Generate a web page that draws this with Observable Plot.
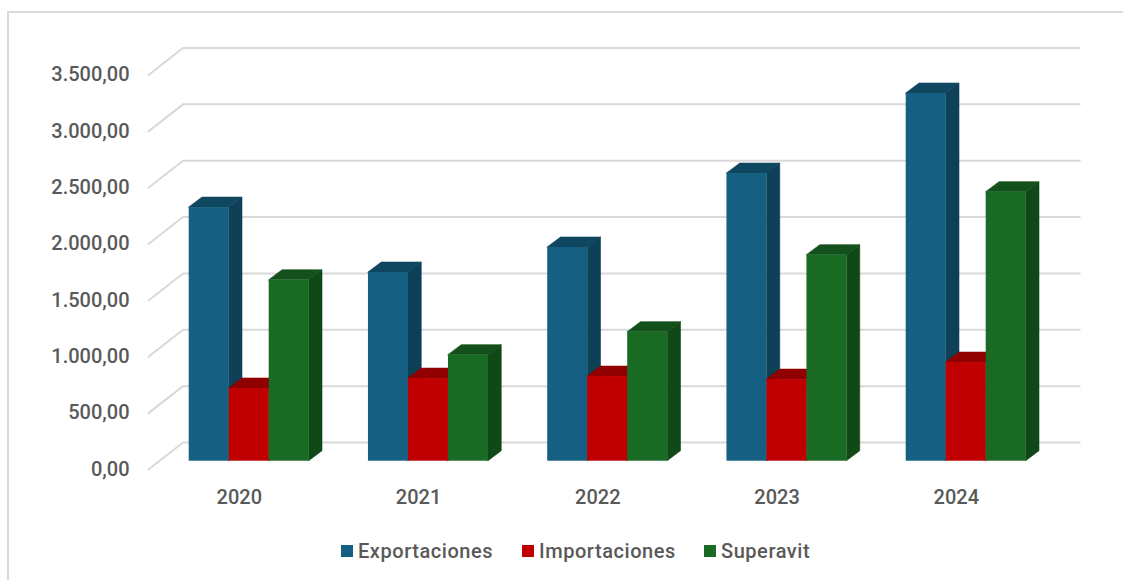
<!DOCTYPE html>
<html lang="es">
<head>
<meta charset="utf-8">
<script src="https://cdn.jsdelivr.net/npm/d3@7"></script>
<script src="https://cdn.jsdelivr.net/npm/@observablehq/plot@0.6"></script>
<style>
html,body{margin:0;padding:0;background:#fff;width:1123px;height:580px;overflow:hidden;}
#page{position:relative;width:1123px;height:580px;overflow:hidden;font-family:Roboto,sans-serif;}
#card{position:absolute;left:7px;top:11px;width:1200px;height:700px;border:2px solid #d9d9d9;box-sizing:border-box;}
#chart{position:absolute;left:0;top:0;}
#chart svg{display:block;background:transparent;}
#chart svg text{font-weight:500;}
#legend{position:absolute;left:341px;top:538px;height:26px;font-size:20px;color:#595959;font-weight:500;white-space:nowrap;letter-spacing:0.55px;}
.item{display:flex;align-items:center;position:absolute;top:0;height:26px;}
.sw{width:12px;height:12px;margin-right:5px;flex:none;}
</style>
</head>
<body>
<div id="page">
<div id="card"></div>
<div id="chart"></div>
<div id="legend"></div>
</div>
<script>
const years = ["2020", "2021", "2022", "2023", "2024"];
const exportaciones = [2250, 1674, 1896, 2552, 3262];
const importaciones = [645, 733, 751, 724, 875];
const superavit = [1605, 941, 1145, 1828, 2387];
const yTicks = [0, 500, 1000, 1500, 2000, 2500, 3000, 3500];

const seriesList = [
  {name: "Exportaciones", values: exportaciones, front: "#156082", side: "#0e4057", top: "#0f4761"},
  {name: "Importaciones", values: importaciones, front: "#c00000", side: "#800000", top: "#900000"},
  {name: "Superavit", values: superavit, front: "#196b24", side: "#104818", top: "#13501b"}
];

const slot = 179.25;
const barW = 40 / slot;
const depthX = 13.3 / slot;
const depthY = 10 / 0.11272;
const wallNear = 8.3 / 0.11272;
const wallFar = 18.7 / 0.11272;
const wallX = [-0.227, -0.0346, 4.968];

const fmt = d3.formatLocale({decimal: ",", thousands: ".", grouping: [3], currency: ["", ""]}).format(",.2f");

const gridPts = yTicks.flatMap(v => [
  {v, x: wallX[0], y: v - wallNear},
  {v, x: wallX[1], y: v + wallFar},
  {v, x: wallX[2], y: v + wallFar}
]);

const barMarks = seriesList.flatMap((s, k) => {
  const fronts = s.values.map((v, i) => ({i, v, x1: i + k * barW, x2: i + (k + 1) * barW}));
  const side = fronts.flatMap(b => [
    {i: b.i, x: b.x2, y1: 0, y2: b.v},
    {i: b.i, x: b.x2 + depthX, y1: depthY, y2: b.v + depthY}
  ]);
  const top = fronts.flatMap(b => [
    {i: b.i, y: b.v, x1: b.x1, x2: b.x2},
    {i: b.i, y: b.v + depthY, x1: b.x1 + depthX, x2: b.x2 + depthX}
  ]);
  return [
    Plot.areaY(side, {x: "x", y1: "y1", y2: "y2", z: "i", fill: s.side, stroke: s.side, strokeWidth: 0.6}),
    Plot.areaX(top, {y: "y", x1: "x1", x2: "x2", z: "i", fill: s.top, stroke: s.top, strokeWidth: 0.6}),
    Plot.rect(fronts, {x1: "x1", x2: "x2", y1: 0, y2: "v", fill: s.front})
  ];
});

const chart = Plot.plot({
  width: 1123,
  height: 530,
  marginLeft: 129,
  marginRight: 0,
  marginTop: 0,
  marginBottom: 0,
  style: {background: "transparent", fontFamily: "Roboto, sans-serif"},
  x: {type: "linear", domain: [0, 5], range: [188.7, 188.7 + 5 * slot], axis: null},
  y: {type: "linear", domain: [0, 3500], range: [460.7, 66.2]},
  marks: [
    Plot.line(gridPts, {x: "x", y: "y", z: "v", stroke: "#d9d9d9", strokeWidth: 2, curve: "linear"}),
    ...barMarks,
    Plot.axisY({
      anchor: "left",
      ticks: yTicks,
      tickSize: 0,
      tickPadding: 0,
      tickFormat: fmt,
      label: null,
      dy: 8.2,
      fontSize: 20,
      fill: "#595959",
      textStroke: "none"
    }),
    Plot.text(years, {
      x: (d, i) => i + 1.5 * barW - 0.055,
      y: 0,
      text: d => d,
      dy: 36.3,
      fontSize: 20,
      fill: "#595959",
      textAnchor: "middle",
      lineAnchor: "middle"
    })
  ]
});
document.getElementById("chart").appendChild(chart);

const legendLefts = [0, 181, 363];
const legend = document.getElementById("legend");
seriesList.forEach((s, k) => {
  const it = document.createElement("div");
  it.className = "item";
  it.style.left = legendLefts[k] + "px";
  const sw = document.createElement("span");
  sw.className = "sw";
  sw.style.background = s.front;
  const tx = document.createElement("span");
  tx.textContent = s.name;
  it.append(sw, tx);
  legend.appendChild(it);
});
</script>
</body>
</html>
